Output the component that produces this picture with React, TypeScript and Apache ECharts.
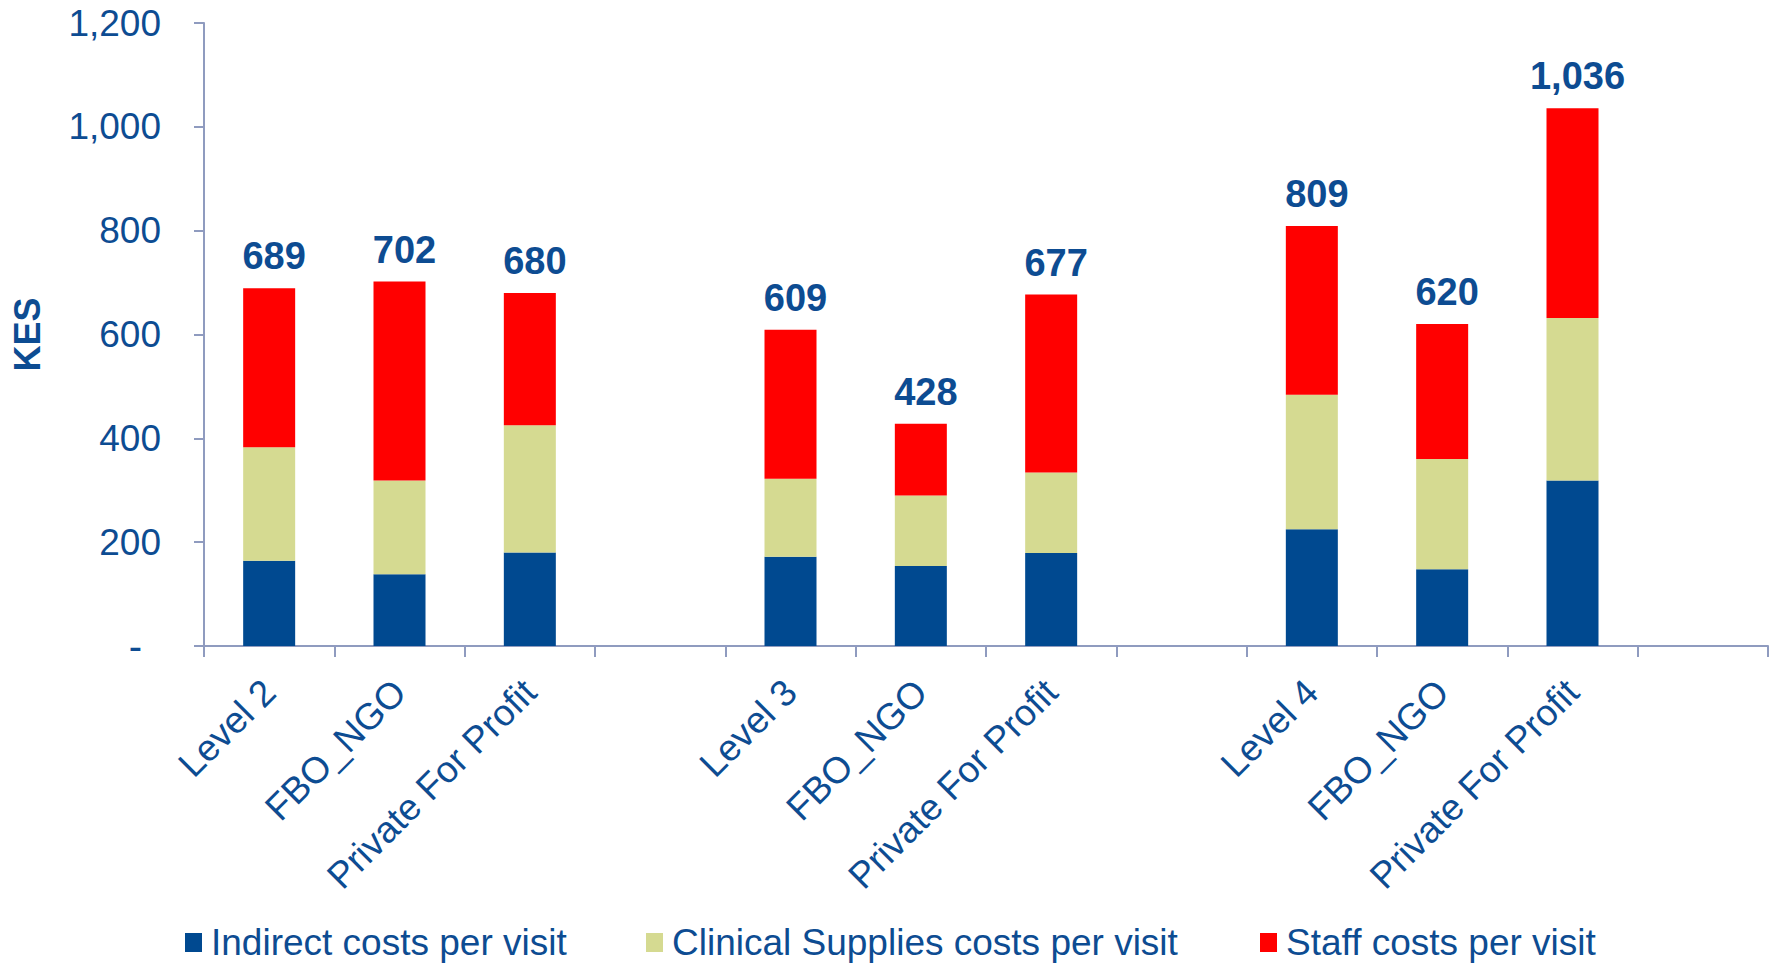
import React, { useEffect, useRef } from "react";
import * as echarts from "echarts";

const categories = [
  "Level 2", "FBO_NGO", "Private For Profit", "",
  "Level 3", "FBO_NGO", "Private For Profit", "",
  "Level 4", "FBO_NGO", "Private For Profit", "",
];
const indirect = [164, 138, 180, null, 172, 154, 179, null, 225, 148, 319, null];
const clinical = [219, 181, 245, null, 150, 136, 155, null, 259, 212, 313, null];
const staff = [306, 383, 255, null, 287, 138, 343, null, 325, 260, 404, null];
const seriesNames = [
  "Indirect costs per visit",
  "Clinical Supplies costs per visit",
  "Staff costs per visit",
];
const yTicks = { min: 0, max: 1200, interval: 200 };

const TEXT = "#0D4C92";
const AXIS = "#8F9BBF";
const FONT = "Liberation Sans, Arial, sans-serif";

export default function App() {
  const ref = useRef<HTMLDivElement>(null);
  useEffect(() => {
    if (!ref.current) return;
    const chart = echarts.init(ref.current, undefined, { renderer: "svg" });
    const totals = categories.map((_, i) =>
      indirect[i] == null ? null : (indirect[i] as number) + (clinical[i] as number) + (staff[i] as number)
    );
    const barWidth = 52;
    const legendLefts = [185, 646, 1260];
    chart.setOption({
      animation: false,
      textStyle: { fontFamily: FONT },
      grid: { left: 204, right: 9, top: 23, bottom: 318, containLabel: false, outerBoundsMode: "none" },
      legend: seriesNames.map((name, i) => ({
        left: legendLefts[i],
        top: 924,
        padding: 0,
        itemWidth: 17,
        itemHeight: 19,
        icon: "rect",
        textStyle: { color: TEXT, fontSize: 37, lineHeight: 37, fontFamily: FONT, padding: [0, 0, 0, 4] },
        data: [name],
      })),
      xAxis: {
        type: "category",
        data: categories,
        axisLine: { lineStyle: { color: AXIS, width: 2 } },
        axisTick: { show: true, length: 11, lineStyle: { color: AXIS, width: 2 } },
        axisLabel: {
          rotate: 45,
          interval: 0,
          margin: 40,
          color: TEXT,
          fontSize: 37,
          fontFamily: FONT,
        },
      },
      yAxis: {
        type: "value",
        min: yTicks.min,
        max: yTicks.max,
        interval: yTicks.interval,
        name: "KES",
        nameLocation: "middle",
        nameGap: 159,
        nameTextStyle: { color: TEXT, fontSize: 36, fontWeight: "bold", fontFamily: FONT },
        splitLine: { show: false },
        axisLine: { show: true, lineStyle: { color: AXIS, width: 2 } },
        axisTick: { show: true, length: 10, lineStyle: { color: AXIS, width: 2 } },
        axisLabel: {
          margin: 43,
          color: TEXT,
          fontSize: 37,
          fontFamily: FONT,
          formatter: (v: number) => (v === 0 ? "{d|-}" : v.toLocaleString("en-US")),
          rich: { d: { color: TEXT, fontSize: 40, fontFamily: FONT, padding: [0, 19, 0, 0] } },
        },
      },
      series: [
        {
          name: seriesNames[0],
          type: "bar",
          stack: "total",
          barWidth,
          data: indirect,
          itemStyle: { color: "#004990" },
        },
        {
          name: seriesNames[1],
          type: "bar",
          stack: "total",
          barWidth,
          data: clinical,
          itemStyle: { color: "#D5DA91" },
        },
        {
          name: seriesNames[2],
          type: "bar",
          stack: "total",
          barWidth,
          data: staff,
          itemStyle: { color: "#FF0000" },
          label: {
            show: true,
            position: "top",
            distance: 13,
            offset: [5, 0],
            color: TEXT,
            fontSize: 38,
            fontWeight: "bold",
            fontFamily: FONT,
            formatter: (p: any) => {
              const t = totals[p.dataIndex];
              return t == null ? "" : t.toLocaleString("en-US");
            },
          },
        },
      ],
    });
    return () => chart.dispose();
  }, []);
  return (
    <div
      ref={ref}
      style={{ position: "absolute", left: 0, top: 0, width: 1777, height: 964 }}
    />
  );
}
